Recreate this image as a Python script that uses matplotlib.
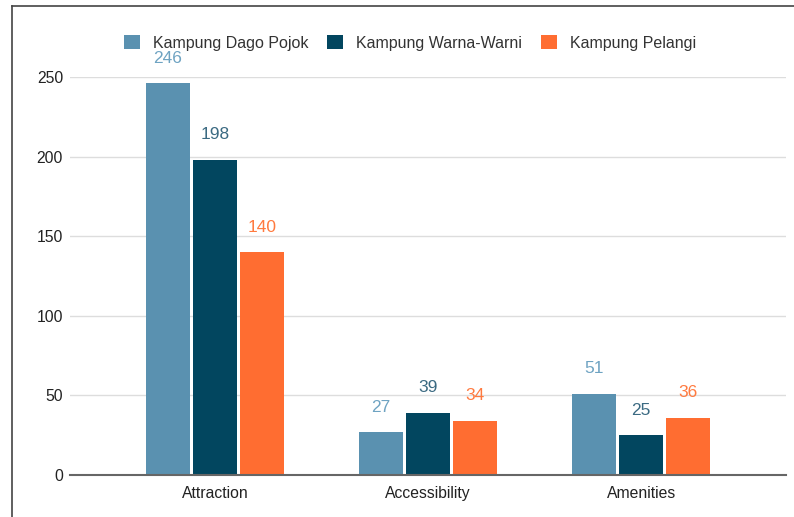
import matplotlib.pyplot as plt
import numpy as np
from matplotlib.lines import Line2D

plt.rcParams['font.family'] = ['Liberation Sans', 'DejaVu Sans']

categories = ['Attraction', 'Accessibility', 'Amenities']
series = ['Kampung Dago Pojok', 'Kampung Warna-Warni', 'Kampung Pelangi']
dago = [246, 27, 51]
warna = [198, 39, 25]
pelangi = [140, 34, 36]
yticks = [0, 50, 100, 150, 200, 250]

colors = ['#5a91b0', '#02465f', '#ff6d31']
label_colors = ['#6ea3c2', '#3b6a82', '#ff7a3f']

fig = plt.figure(figsize=(7.94, 5.17), dpi=100)
ax = fig.add_axes([70/794, 1 - 475/517, 716/794, 398/517])

x = np.arange(len(categories))
width = 0.205
step = 0.22
for k, (vals, name) in enumerate(zip([dago, warna, pelangi], series)):
    pos = x + (k - 1) * step
    bars = ax.bar(pos, vals, width, color=colors[k], label=name, zorder=3)
    for b, v in zip(bars, vals):
        ax.annotate(str(v), (b.get_x() + b.get_width() / 2, v),
                    xytext=(0, 18), textcoords='offset points',
                    ha='center', va='center', fontsize=12.5,
                    color=label_colors[k], annotation_clip=False)

ax.set_xlim(-0.68, 2.68)
ax.set_ylim(0, 250)
ax.set_yticks(yticks)
ax.set_xticks(x)
ax.set_xticklabels(categories)
ax.tick_params(length=0, labelsize=11.3, colors='#222222')
ax.tick_params(axis='y', pad=5)
ax.tick_params(axis='x', pad=8)
ax.grid(axis='y', color='#dddddd', linewidth=1, zorder=0)
for s in ['top', 'right', 'left']:
    ax.spines[s].set_visible(False)
ax.spines['bottom'].set_color('#666666')
ax.spines['bottom'].set_linewidth(1.5)
ax.spines['bottom'].set_zorder(4)

ax.legend(loc='center', bbox_to_anchor=(410/794, 1 - 43/517),
          bbox_transform=fig.transFigure, ncol=3, frameon=False,
          fontsize=11.5, handlelength=1.0, handleheight=1.0,
          columnspacing=1.2, handletextpad=0.8, labelcolor='#333333')

# frame lines of the screenshot
fig.add_artist(Line2D([12/794, 12/794], [0, 1 - 6/517], transform=fig.transFigure,
                      color='#444444', linewidth=1.2))
fig.add_artist(Line2D([12/794, 1], [1 - 6/517, 1 - 6/517], transform=fig.transFigure,
                      color='#444444', linewidth=1.2))

fig.savefig('out.png', dpi=100)
